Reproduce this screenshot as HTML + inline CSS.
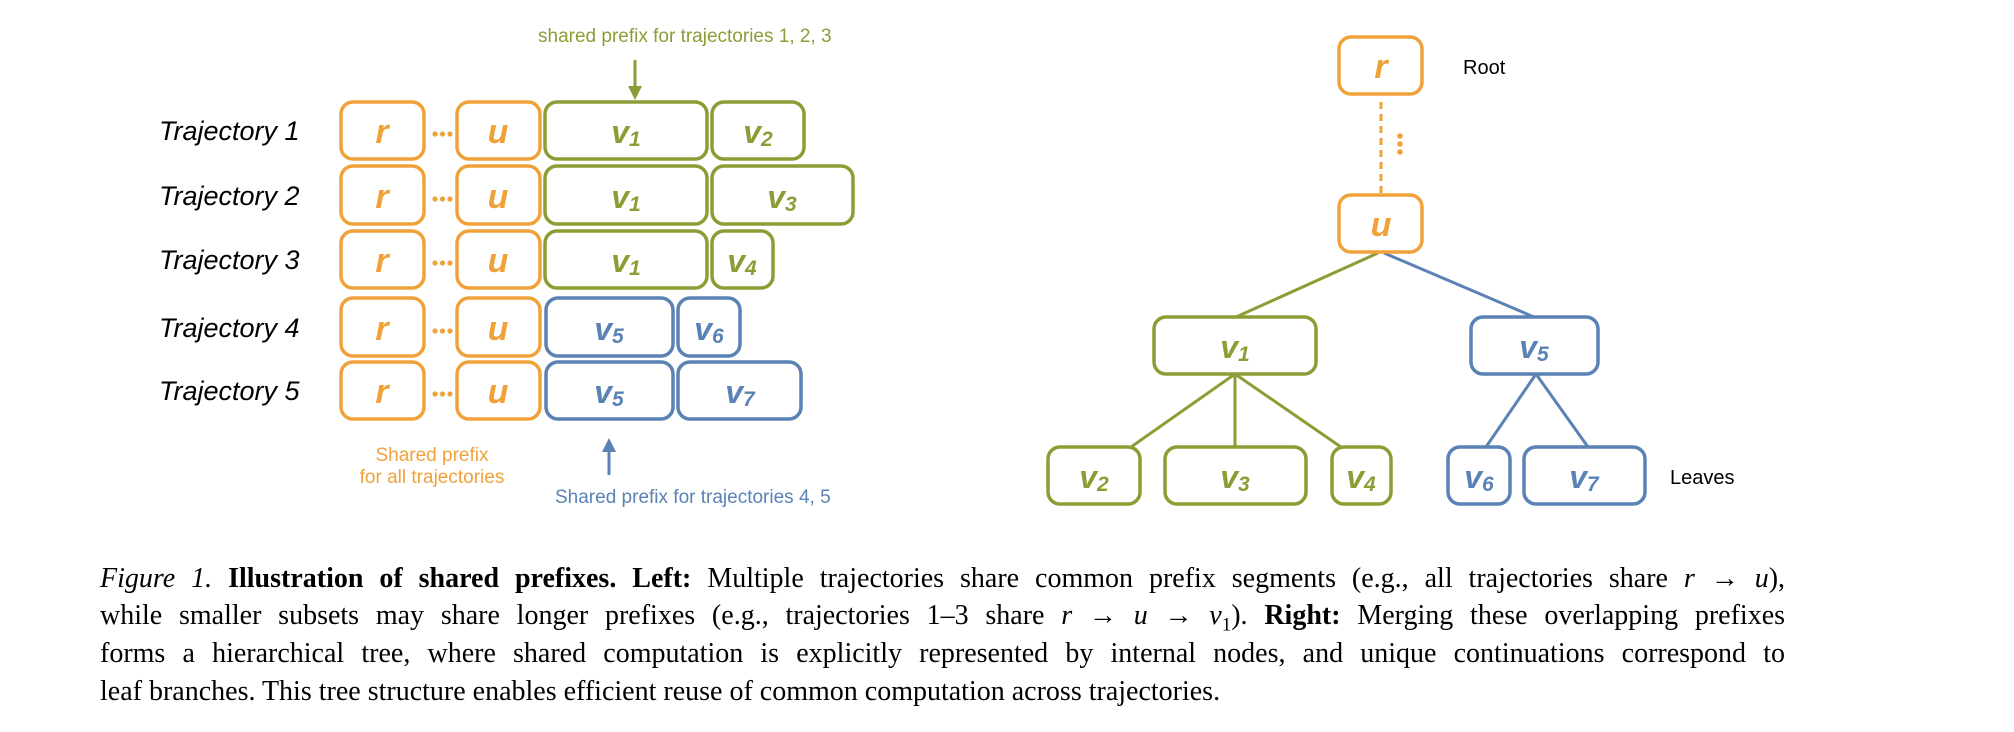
<!DOCTYPE html>
<html><head><meta charset="utf-8"><style>
html,body{margin:0;padding:0;background:#fff;}
body{width:2014px;height:732px;position:relative;overflow:hidden;}
svg{position:absolute;left:0;top:0;}
.cap{position:absolute;left:100px;width:1685px;font-family:"Liberation Serif",serif;font-size:28px;color:#000;white-space:nowrap;}
.j{text-align:justify;text-align-last:justify;white-space:normal;}
.m{font-style:italic;}
</style></head><body>
<svg width="2014" height="732" viewBox="0 0 2014 732" xmlns="http://www.w3.org/2000/svg">
<defs>
<marker id="ag" viewBox="0 0 10 10" refX="5" refY="9" markerWidth="4.2" markerHeight="4.2" orient="auto-start-reverse"><path d="M0,0 L10,0 L5,10 z" fill="#8A9E35"/></marker>
</defs>
<g font-family="Liberation Sans, sans-serif">
<!-- trajectory labels -->
<g font-size="27" font-style="italic" fill="#000">
<text x="159" y="140">Trajectory 1</text>
<text x="159" y="205">Trajectory 2</text>
<text x="159" y="269">Trajectory 3</text>
<text x="159" y="337">Trajectory 4</text>
<text x="159" y="400">Trajectory 5</text>
</g>
<!-- orange boxes -->
<g fill="none" stroke="#F0A23A" stroke-width="3.5">
<rect x="341" y="102" width="83" height="57" rx="12"/><rect x="457" y="102" width="83" height="57" rx="12"/>
<rect x="341" y="166" width="83" height="58" rx="12"/><rect x="457" y="166" width="83" height="58" rx="12"/>
<rect x="341" y="231" width="83" height="57" rx="12"/><rect x="457" y="231" width="83" height="57" rx="12"/>
<rect x="341" y="298" width="83" height="58" rx="12"/><rect x="457" y="298" width="83" height="58" rx="12"/>
<rect x="341" y="362" width="83" height="57" rx="12"/><rect x="457" y="362" width="83" height="57" rx="12"/>
</g>
<g fill="#F0A23A">
<circle cx="435" cy="134" r="2.6"/><circle cx="442.5" cy="134" r="2.6"/><circle cx="450" cy="134" r="2.6"/>
<circle cx="435" cy="199" r="2.6"/><circle cx="442.5" cy="199" r="2.6"/><circle cx="450" cy="199" r="2.6"/>
<circle cx="435" cy="263" r="2.6"/><circle cx="442.5" cy="263" r="2.6"/><circle cx="450" cy="263" r="2.6"/>
<circle cx="435" cy="331" r="2.6"/><circle cx="442.5" cy="331" r="2.6"/><circle cx="450" cy="331" r="2.6"/>
<circle cx="435" cy="394" r="2.6"/><circle cx="442.5" cy="394" r="2.6"/><circle cx="450" cy="394" r="2.6"/>
</g>
<g font-size="34" font-weight="bold" font-style="italic" fill="#F0A23A" text-anchor="middle">
<text x="382" y="143">r</text><text x="498" y="143">u</text>
<text x="382" y="208">r</text><text x="498" y="208">u</text>
<text x="382" y="272">r</text><text x="498" y="272">u</text>
<text x="382" y="340">r</text><text x="498" y="340">u</text>
<text x="382" y="403">r</text><text x="498" y="403">u</text>
</g>
<!-- green boxes -->
<g fill="none" stroke="#8A9E35" stroke-width="3.5">
<rect x="545" y="102" width="162" height="57" rx="12"/><rect x="712" y="102" width="92" height="57" rx="12"/>
<rect x="545" y="166" width="162" height="58" rx="12"/><rect x="712" y="166" width="141" height="58" rx="12"/>
<rect x="545" y="231" width="162" height="57" rx="12"/><rect x="712" y="231" width="61" height="57" rx="12"/>
</g>
<!-- blue boxes -->
<g fill="none" stroke="#5A82B5" stroke-width="3.5">
<rect x="546" y="298" width="127" height="58" rx="12"/><rect x="678" y="298" width="62" height="58" rx="12"/>
<rect x="546" y="362" width="127" height="57" rx="12"/><rect x="678" y="362" width="123" height="57" rx="12"/>
</g>
<g font-size="32" font-weight="bold" font-style="italic" text-anchor="middle">
<g fill="#8A9E35">
<text x="626" y="143">v<tspan font-size="21" dy="3">1</tspan></text>
<text x="758" y="143">v<tspan font-size="21" dy="3">2</tspan></text>
<text x="626" y="208">v<tspan font-size="21" dy="3">1</tspan></text>
<text x="782" y="208">v<tspan font-size="21" dy="3">3</tspan></text>
<text x="626" y="272">v<tspan font-size="21" dy="3">1</tspan></text>
<text x="742" y="272">v<tspan font-size="21" dy="3">4</tspan></text>
</g>
<g fill="#5A82B5">
<text x="609" y="340">v<tspan font-size="21" dy="3">5</tspan></text>
<text x="709" y="340">v<tspan font-size="21" dy="3">6</tspan></text>
<text x="609" y="403">v<tspan font-size="21" dy="3">5</tspan></text>
<text x="740" y="403">v<tspan font-size="21" dy="3">7</tspan></text>
</g>
</g>
<!-- annotations -->
<text x="538" y="42" font-size="19" fill="#8A9E35">shared prefix for trajectories 1, 2, 3</text>
<line x1="635" y1="60" x2="635" y2="88" stroke="#8A9E35" stroke-width="3"/>
<path d="M628,86 L642,86 L635,100 z" fill="#8A9E35"/>
<line x1="609" y1="450" x2="609" y2="475" stroke="#5A82B5" stroke-width="3"/>
<path d="M602,452 L616,452 L609,438 z" fill="#5A82B5"/>
<text x="555" y="503" font-size="19" fill="#5A82B5">Shared prefix for trajectories 4, 5</text>
<g font-size="19" fill="#F0A23A" text-anchor="middle">
<text x="432" y="461">Shared prefix</text>
<text x="432" y="483">for all trajectories</text>
</g>

<!-- tree -->
<line x1="1381" y1="102" x2="1381" y2="195" stroke="#F0A23A" stroke-width="3" stroke-dasharray="7,5"/>
<g fill="#F0A23A"><circle cx="1400" cy="136" r="2.8"/><circle cx="1400" cy="144" r="2.8"/><circle cx="1400" cy="152" r="2.8"/></g>
<g stroke-width="3">
<line x1="1378" y1="253" x2="1236" y2="317" stroke="#8A9E35"/>
<line x1="1384" y1="253" x2="1534" y2="317" stroke="#5A82B5"/>
<line x1="1235" y1="374" x2="1131" y2="447" stroke="#8A9E35"/>
<line x1="1235" y1="374" x2="1235" y2="447" stroke="#8A9E35"/>
<line x1="1235" y1="374" x2="1341" y2="447" stroke="#8A9E35"/>
<line x1="1536" y1="374" x2="1486" y2="447" stroke="#5A82B5"/>
<line x1="1536" y1="374" x2="1588" y2="447" stroke="#5A82B5"/>
</g>
<g fill="#fff" stroke-width="3.5">
<rect x="1339" y="37" width="83" height="57" rx="12" stroke="#F0A23A"/>
<rect x="1339" y="195" width="83" height="57" rx="12" stroke="#F0A23A"/>
<rect x="1154" y="317" width="162" height="57" rx="12" stroke="#8A9E35"/>
<rect x="1471" y="317" width="127" height="57" rx="12" stroke="#5A82B5"/>
<rect x="1048" y="447" width="92" height="57" rx="12" stroke="#8A9E35"/>
<rect x="1165" y="447" width="141" height="57" rx="12" stroke="#8A9E35"/>
<rect x="1332" y="447" width="59" height="57" rx="12" stroke="#8A9E35"/>
<rect x="1448" y="447" width="62" height="57" rx="12" stroke="#5A82B5"/>
<rect x="1524" y="447" width="121" height="57" rx="12" stroke="#5A82B5"/>
</g>
<g font-size="32" font-weight="bold" font-style="italic" text-anchor="middle">
<text x="1381" y="78" fill="#F0A23A" font-size="34">r</text>
<text x="1381" y="236" fill="#F0A23A" font-size="34">u</text>
<g fill="#8A9E35">
<text x="1235" y="358">v<tspan font-size="21" dy="3">1</tspan></text>
<text x="1094" y="488">v<tspan font-size="21" dy="3">2</tspan></text>
<text x="1235" y="488">v<tspan font-size="21" dy="3">3</tspan></text>
<text x="1361" y="488">v<tspan font-size="21" dy="3">4</tspan></text>
</g>
<g fill="#5A82B5">
<text x="1534" y="358">v<tspan font-size="21" dy="3">5</tspan></text>
<text x="1479" y="488">v<tspan font-size="21" dy="3">6</tspan></text>
<text x="1584" y="488">v<tspan font-size="21" dy="3">7</tspan></text>
</g>
</g>
<text x="1463" y="74" font-size="20" fill="#000">Root</text>
<text x="1670" y="484" font-size="20" fill="#000">Leaves</text>
</g>
</svg>
<div class="cap j" style="top:563px;"><i>Figure 1.</i> <b>Illustration of shared prefixes.</b> <b>Left:</b> Multiple trajectories share common prefix segments (e.g., all trajectories share <span class="m">r</span> → <span class="m">u</span>),</div>
<div class="cap j" style="top:600px;">while smaller subsets may share longer prefixes (e.g., trajectories 1–3 share <span class="m">r</span> → <span class="m">u</span> → <span class="m">v</span><sub style="font-size:19px">1</sub>). <b>Right:</b> Merging these overlapping prefixes</div>
<div class="cap j" style="top:638px;">forms a hierarchical tree, where shared computation is explicitly represented by internal nodes, and unique continuations correspond to</div>
<div class="cap" style="top:676px;">leaf branches. This tree structure enables efficient reuse of common computation across trajectories.</div>
</body></html>
